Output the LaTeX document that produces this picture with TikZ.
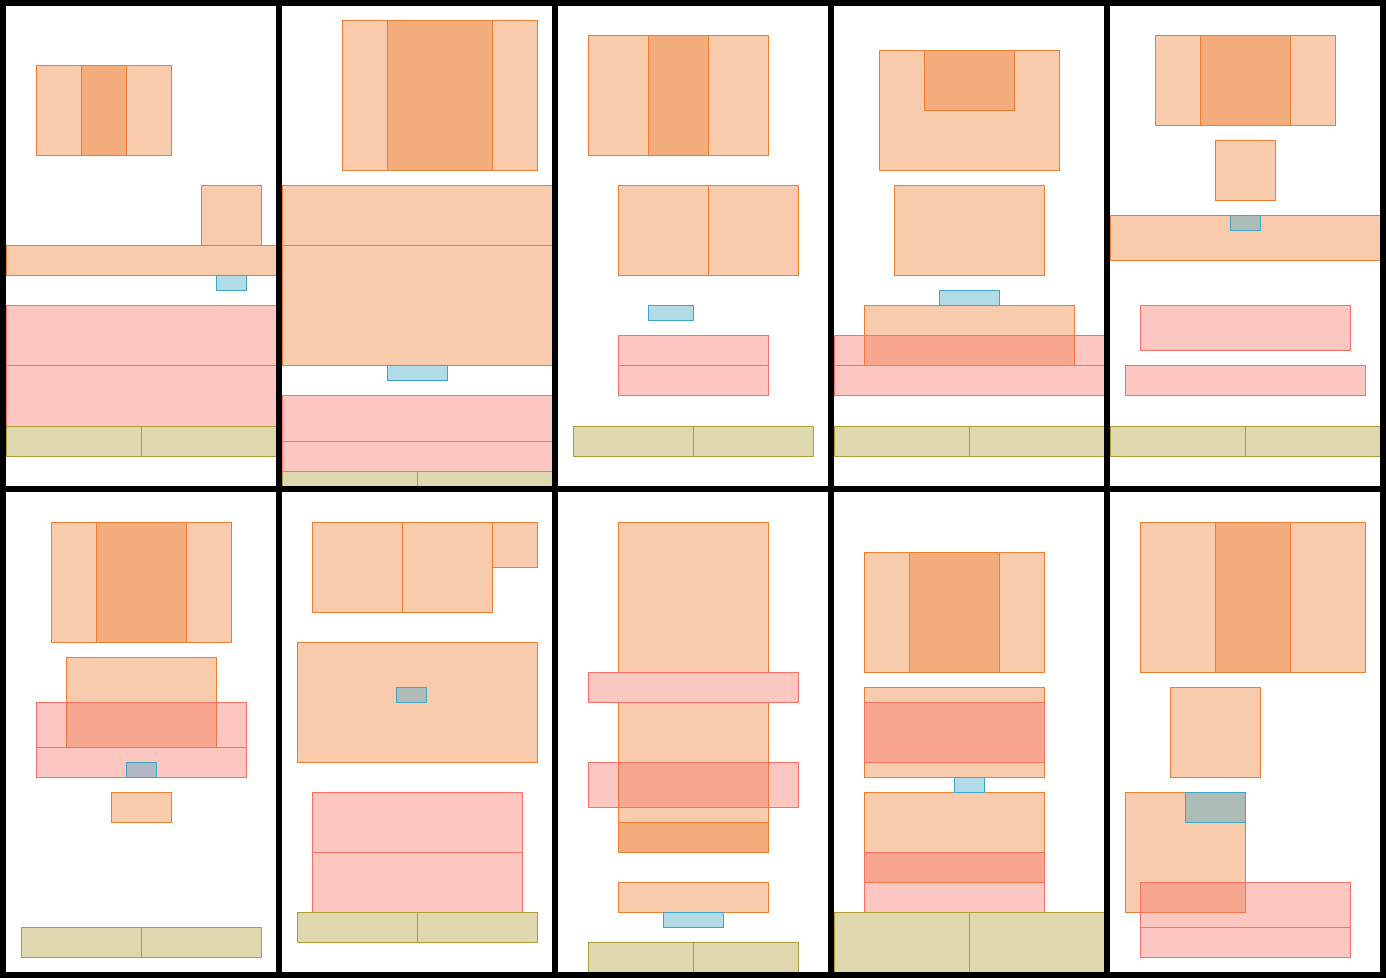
\documentclass[tikz,border=0pt]{standalone}
\usepackage{tikz}
\definecolor{orgline}{RGB}{237,125,49}
\definecolor{pnkline}{RGB}{247,113,100}
\definecolor{bluline}{RGB}{63,165,198}
\definecolor{khaline}{RGB}{175,157,53}
\begin{document}
\begin{tikzpicture}[x=0.5pt, y=-0.5pt, line width=0.5pt,
  org/.style={draw=orgline, fill=orgline, fill opacity=0.4},
  pnk/.style={draw=pnkline, fill=pnkline, fill opacity=0.4},
  blu/.style={draw=bluline, fill=bluline, fill opacity=0.4},
  kha/.style={draw=khaline, fill=khaline, fill opacity=0.4},
  frame/.style={draw=black, line width=3pt}]
\useasboundingbox (0,0) rectangle (1386,978);
% Panel 1
\draw[org] (36,66) rectangle (126,156);
\draw[org] (81,66) rectangle (171,156);
\draw[org] (201,186) rectangle (261,246);
\draw[org] (6,246) rectangle (276,276);
\draw[blu] (216,276) rectangle (246,291);
\draw[pnk] (6,306) rectangle (276,366);
\draw[pnk] (6,366) rectangle (276,426);
\draw[kha] (6,426) rectangle (141,456);
\draw[kha] (141,426) rectangle (276,456);
% Panel 2
\draw[org] (342,21) rectangle (492,171);
\draw[org] (387,21) rectangle (537,171);
\draw[org] (282,186) rectangle (552,246);
\draw[org] (282,246) rectangle (552,366);
\draw[blu] (387,366) rectangle (447,381);
\draw[pnk] (282,396) rectangle (552,441);
\draw[pnk] (282,441) rectangle (552,471);
\draw[kha] (282,471) rectangle (417,486);
\draw[kha] (417,471) rectangle (552,486);
% Panel 3
\draw[org] (588,36) rectangle (708,156);
\draw[org] (648,36) rectangle (768,156);
\draw[org] (618,186) rectangle (708,276);
\draw[org] (708,186) rectangle (798,276);
\draw[blu] (648,306) rectangle (693,321);
\draw[pnk] (618,336) rectangle (768,366);
\draw[pnk] (618,366) rectangle (768,396);
\draw[kha] (573,426) rectangle (693,456);
\draw[kha] (693,426) rectangle (813,456);
% Panel 4
\draw[org] (879,51) rectangle (1059,171);
\draw[org] (924,51) rectangle (1014,111);
\draw[org] (894,186) rectangle (1044,276);
\draw[org] (864,306) rectangle (1074,366);
\draw[blu] (939,291) rectangle (999,306);
\draw[pnk] (834,336) rectangle (1104,366);
\draw[pnk] (834,366) rectangle (1104,396);
\draw[kha] (834,426) rectangle (969,456);
\draw[kha] (969,426) rectangle (1104,456);
% Panel 5
\draw[org] (1155,36) rectangle (1290,126);
\draw[org] (1200,36) rectangle (1335,126);
\draw[org] (1215,141) rectangle (1275,201);
\draw[org] (1110,216) rectangle (1380,261);
\draw[blu] (1230,216) rectangle (1260,231);
\draw[pnk] (1140,306) rectangle (1350,351);
\draw[pnk] (1125,366) rectangle (1365,396);
\draw[kha] (1110,426) rectangle (1245,456);
\draw[kha] (1245,426) rectangle (1380,456);
% Panel 6
\draw[org] (51,522) rectangle (186,642);
\draw[org] (96,522) rectangle (231,642);
\draw[org] (66,657) rectangle (216,747);
\draw[org] (111,792) rectangle (171,822);
\draw[pnk] (36,702) rectangle (246,747);
\draw[pnk] (36,747) rectangle (246,777);
\draw[blu] (126,762) rectangle (156,777);
\draw[kha] (21,927) rectangle (141,957);
\draw[kha] (141,927) rectangle (261,957);
% Panel 7
\draw[org] (312,522) rectangle (402,612);
\draw[org] (402,522) rectangle (492,612);
\draw[org] (492,522) rectangle (537,567);
\draw[org] (297,642) rectangle (537,762);
\draw[blu] (396,687) rectangle (426,702);
\draw[pnk] (312,792) rectangle (522,852);
\draw[pnk] (312,852) rectangle (522,912);
\draw[kha] (297,912) rectangle (417,942);
\draw[kha] (417,912) rectangle (537,942);
% Panel 8
\draw[org] (618,522) rectangle (768,672);
\draw[org] (618,702) rectangle (768,852);
\draw[org] (618,822) rectangle (768,852);
\draw[org] (618,882) rectangle (768,912);
\draw[pnk] (588,672) rectangle (798,702);
\draw[pnk] (588,762) rectangle (798,807);
\draw[blu] (663,912) rectangle (723,927);
\draw[kha] (588,942) rectangle (693,972);
\draw[kha] (693,942) rectangle (798,972);
% Panel 9
\draw[org] (864,552) rectangle (999,672);
\draw[org] (909,552) rectangle (1044,672);
\draw[org] (864,687) rectangle (1044,777);
\draw[org] (864,792) rectangle (1044,882);
\draw[pnk] (864,702) rectangle (1044,762);
\draw[pnk] (864,852) rectangle (1044,912);
\draw[blu] (954,777) rectangle (984,792);
\draw[kha] (834,912) rectangle (969,972);
\draw[kha] (969,912) rectangle (1104,972);
% Panel 10
\draw[org] (1140,522) rectangle (1290,672);
\draw[org] (1215,522) rectangle (1365,672);
\draw[org] (1170,687) rectangle (1260,777);
\draw[org] (1125,792) rectangle (1245,912);
\draw[blu] (1185,792) rectangle (1245,822);
\draw[pnk] (1140,882) rectangle (1350,927);
\draw[pnk] (1140,927) rectangle (1350,957);
% Rammer
\draw[frame] (3,3) rectangle (1383,975);
\foreach \x in {279,555,831,1107}
  \draw[frame] (\x,3) -- (\x,975);
\draw[frame] (3,489) -- (1383,489);
\end{tikzpicture}
\end{document}
